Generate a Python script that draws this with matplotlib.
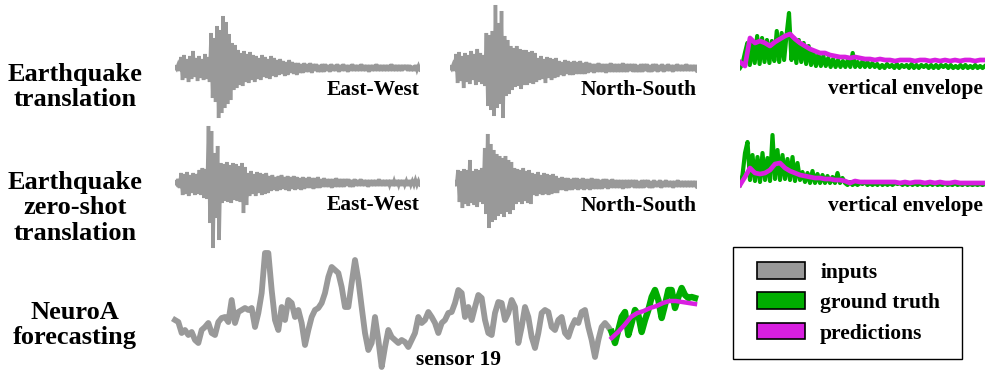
import numpy as np
import matplotlib
matplotlib.use("Agg")
import matplotlib.pyplot as plt
from matplotlib.patches import Patch, Rectangle
from matplotlib.legend_handler import HandlerPatch

W, H = 989, 370

GRAY = "#999999"
GREEN = "#00ad00"
MAGENTA = "#d81fe0"

# seismograms, amplitude (pixels above/below the baseline)
ew1 = [1, -1, 3, -3,
       11, -12, 13, -10, 9, -14, 12, -11, 17, -9, 10, -13, 12, -10, 9, -12, 14, -11, 11, -14,
       35, -30, 30, -34, 42, -50, 38, -45, 52, -40, 46, -36, 34, -32,
       25, -22, 23, -20,
       18, -17, 15, -18, 17, -14, 14, -15, 16, -12, 13, -14,
       12, -11, 10, -12, 13, -9, 11, -10, 9, -11, 12, -8, 10, -9,
       8, -7, 9, -6, 7, -8, 6, -7, 8, -5, 6, -6, 5, -7,
       5, -5, 4, -5, 5, -4, 4, -4, 5, -5, 4, -3, 4, -4, 3, -4, 4, -4, 4, -3,
       3, -4, 4, -3, 3, -3, 4, -4, 3, -3, 4, -3, 3, -4, 3, -3, 4, -3, 3, -3,
       3, -3, 4, -3, 3, -3, 3, -4, 3, -3, 3, -3, 4, -3, 3, -3, 3, -3, 3, -3,
       3, -3, 4, -3, 3, -3, 3, -3, 3, -3, 3, -2, 3, -3, 3, -3, 2, -3, 3, -2,
       2, -2]
ns1 = [1, -1, 3, -3,
       14, -15, 16, -13, 12, -20, 15, -14, 13, -16, 17, -12, 14, -17, 19, -14, 15, -16, 13, -18,
       35, -38, 33, -42, 37, -48, 63, -40, 45, -36, 57, -50,
       32, -28, 28, -26,
       22, -22, 20, -19, 22, -18, 19, -21, 18, -17,
       18, -17, 16, -15, 17, -16, 15, -14,
       10, -12, 12, -11, 9, -15, 11, -10, 10, -12, 9, -10, 10, -9,
       7, -7, 6, -8, 8, -6, 7, -7, 6, -7, 7, -6, 6, -6, 7, -6, 5, -6, 6, -5,
       5, -4, 4, -5, 4, -4, 5, -4, 4, -4, 4, -5, 4, -4, 5, -4, 4, -4, 4, -4,
       4, -4, 5, -4, 4, -4, 4, -3, 4, -4, 4, -4, 3, -4, 4, -4, 4, -3, 4, -4,
       3, -4, 4, -3, 4, -4, 3, -3, 4, -4, 3, -3, 4, -3, 3, -4, 3, -3, 4, -3,
       3, -3, 3, -3, 4, -3, 3, -3, 3, -3, 3, -3]
ew2 = [1, -1, 4, -5,
       10, -12, 9, -11, 11, -13, 8, -10, 10, -12, 9, -11, 13, -12,
       15, -15, 14, -16,
       57, -40, 52, -65, 30, -35, 37, -57,
       20, -20, 19, -18, 21, -19, 18, -20, 20, -17, 19, -18, 17, -19,
       20, -30, 16, -22,
       10, -13, 12, -11, 9, -13, 11, -10, 10, -12, 9, -11, 10, -10,
       7, -8, 8, -7, 6, -8, 7, -7, 8, -6, 6, -7, 7, -8, 6, -6, 7, -7, 6, -6,
       5, -7, 6, -6, 5, -5, 6, -5, 5, -6, 5, -5, 6, -5,
       4, -4, 5, -4, 4, -4, 4, -5, 4, -4, 5, -4, 4, -4, 4, -4, 4, -3, 4, -4,
       3, -4, 4, -3, 3, -3, 4, -3, 3, -3, 3, -4, 3, -3, 3, -3, 3, -3, 4, -3,
       3, -3, 3, -3, 3, -2, 3, -3, 2, -3, 3, -2, 3, -3, 3, -2, 2, -3, 3, -2,
       2, -2, 3, -2, 2, -2]
ns2 = [2, -2,
       14, -18, 13, -24, 15, -20, 14, -22, 24, -19, 13, -21, 15, -23, 14, -18, 16, -20,
       36, -30, 50, -44, 40, -38, 34, -36, 30, -32,
       28, -30, 26, -33, 28, -28, 24, -30, 22, -26,
       16, -20, 15, -18, 14, -20, 16, -17, 13, -19, 14, -20,
       11, -11, 10, -12, 12, -10, 9, -11, 11, -10, 10, -11, 9, -10, 10, -9, 8, -9,
       6, -6, 7, -6, 6, -7, 6, -6, 5, -6, 6, -5, 6, -6, 5, -5, 6, -6, 5, -5,
       5, -6, 6, -5, 5, -5, 5, -5, 4, -5, 5, -4, 5, -5,
       4, -4, 5, -4, 4, -4, 4, -4, 4, -5, 4, -4, 4, -4, 4, -3, 4, -4, 4, -4,
       3, -4, 4, -4, 4, -3, 4, -4, 3, -4, 4, -3, 3, -3, 4, -4, 3, -3, 4, -3,
       3, -3, 3, -4, 3, -3, 4, -3, 3, -3, 3, -3, 3, -3, 3, -3, 3, -3, 3, -3]

# vertical envelopes (height above baseline)
env_true1 = [0, 4, 15,
             25, 3, 24, 5, 32, 4, 30, 6, 28, 5, 27, 7,
             37, 6, 35, 8, 33, 55, 8,
             30, 5, 28, 6, 25, 4, 22, 3,
             15, 2, 14, 2, 12, 2, 10, 1, 9, 1, 8, 1,
             7, 1, 8, 1, 15, 1, 6, 1, 7, 1, 6, 1, 5, 1,
             4, 0, 3, 0, 4, 1, 3, 0, 4, 0, 3, 1, 3, 0, 4, 0, 3, 0, 3, 1,
             3, 0, 3, 0, 3, 0, 3, 1, 3, 0, 3, 0, 2, 0, 3, 0, 3, 0, 2, 0,
             3, 0, 2, 0, 2]
env_pred1 = [6, 2, 30, 25, 27, 25, 22, 26, 29, 32, 34, 29, 25, 22, 19, 17, 15, 15, 13, 12,
             11, 11, 10, 11, 10, 9, 9, 8, 9, 8, 8, 7, 8, 8, 8, 7, 8, 8, 7, 8,
             7, 8, 7, 8, 7, 8, 8, 7, 8, 8]
env_true2 = [0, 10, 32, 43, 5,
             30, 4, 28, 3, 32, 5, 27, 4,
             50, 6, 35, 5, 30, 6, 26, 5, 28, 4, 22, 5,
             13, 3, 12, 2, 14, 2, 11, 2, 10,
             2, 9, 2, 8, 2, 12, 2, 7,
             2, 0, 3, 0, 2, 0, 2, 1, 3, 0, 2, 0, 2, 0, 3, 0, 2, 0, 2, 0,
             2, 1, 2, 0, 2, 0, 2, 0, 2, 0, 2, 0, 1, 0, 2, 0, 2, 0, 1, 0,
             2, 0, 1, 0, 2, 0, 1, 0, 2, 0, 1, 0, 1, 0, 1, 0, 1]
env_pred2 = [0, 8, 17, 12, 11, 12, 15, 21, 22, 17, 14, 12, 10, 9, 8, 7, 7, 6, 6, 5,
             5, 4, 2, 4, 3, 3, 3, 3, 3, 3, 3, 3, 2, 3, 2, 3, 3, 2, 3, 2,
             3, 2, 2, 3, 2, 2, 2, 2, 2, 2]

# NeuroA sensor 19
sensor_in = [50, 48, 37, 40, 35, 38, 30, 27, 40, 43, 47, 37, 35, 48, 52, 53, 48, 70, 47, 58,
             60, 62, 60, 62, 43, 57, 77, 117, 117, 80, 50, 40, 63, 50, 70, 67, 53, 60, 47, 25,
             40, 53, 60, 62, 67, 77, 93, 103, 100, 97, 83, 63, 63, 87, 110, 90, 63, 37, 20, 27,
             53, 30, 3, 23, 40, 33, 30, 27, 30, 28, 23, 30, 37, 53, 47, 50, 58, 53, 47, 37,
             47, 50, 57, 58, 67, 80,
             77, 53, 63, 50, 63, 75, 72, 50, 37, 35, 57, 68, 67, 50, 57, 70, 63, 27, 43, 63,
             53, 33, 22, 37, 57, 60, 58, 43, 40, 50, 53, 37, 33, 43, 50, 47, 58, 60, 43, 30,
             13, 30, 43, 47, 43, 38]
sensor_true = [38, 27, 40, 53, 58, 35, 47, 60, 55, 38, 50, 60, 73, 80, 70, 52, 65, 80, 80, 62,
               73, 82, 75, 72, 73, 72]
sensor_pred = [32, 38, 45, 53, 57, 59, 62, 64, 67, 69, 69, 68, 67, 66]

row_labels = ["Earthquake\ntranslation", "Earthquake\nzero-shot\ntranslation", "NeuroA\nforecasting"]
legend_labels = ["inputs", "ground truth", "predictions"]

plt.rcParams["font.family"] = ["Liberation Serif", "DejaVu Serif"]
plt.rcParams["font.weight"] = "bold"

fig = plt.figure(figsize=(W / 100, H / 100), dpi=100)


def px_axes(x0, x1, y_top, y_bot):
    ax = fig.add_axes([x0 / W, 1 - y_bot / H, (x1 - x0) / W, (y_bot - y_top) / H])
    ax.set_axis_off()
    return ax


def px_text(x, y, s, **kw):
    fig.text(x / W, 1 - y / H, s, fontweight="bold", **kw)


def seismo(trace, x0, x1, base, label):
    ax = px_axes(x0, x1, base - 70, base + 70)
    ax.plot(np.arange(len(trace)), trace, color=GRAY, lw=2.5, solid_joinstyle="miter")
    ax.set_xlim(0, len(trace) - 1)
    ax.set_ylim(-70, 70)
    px_text(x1, base + 22, label, ha="right", va="center", fontsize=15.5)


def envelope(true, pred, base):
    ax = px_axes(740, 985, base - 62, base + 8)
    ax.plot(np.linspace(0, 1, len(true)), true, color=GREEN, lw=3.0)
    ax.plot(np.linspace(0, 1, len(pred)), pred, color=MAGENTA, lw=3.4)
    ax.set_xlim(0, 1)
    ax.set_ylim(-8, 62)
    px_text(983, base + 21, "vertical envelope", ha="right", va="center", fontsize=15.5)


seismo(ew1, 175, 420, 68, "East-West")
seismo(ns1, 450, 697, 68, "North-South")
envelope(env_true1, env_pred1, 68)
seismo(ew2, 175, 420, 183, "East-West")
seismo(ns2, 455, 697, 184, "North-South")
envelope(env_true2, env_pred2, 185)

# forecasting row
ax3 = px_axes(175, 695, 240, 370)
n_in = len(sensor_in)
t_true = np.arange(len(sensor_true)) + n_in - 1
ax3.plot(np.arange(n_in), sensor_in, color=GRAY, lw=4.2)
ax3.plot(t_true, sensor_true, color=GREEN, lw=4.6)
ax3.plot(np.linspace(t_true[0], t_true[-1], len(sensor_pred)), sensor_pred, color=MAGENTA, lw=3.2)
ax3.set_xlim(0, t_true[-1])
ax3.set_ylim(0, 130)
for ln in ax3.lines:
    ln.set_clip_on(False)
px_text(459, 360, "sensor 19", ha="center", va="center", fontsize=15.5)

for lab, y in zip(row_labels, [87, 208, 325]):
    px_text(75, y, lab, ha="center", va="center", fontsize=19, linespacing=1.15)


# legend swatches sit a little in from the frame
def swatch(legend, orig_handle, xdescent, ydescent, width, height, fontsize):
    shift = 6.5
    return Rectangle((-xdescent + shift, -ydescent), width - shift, height)


handles = [Patch(facecolor=c, edgecolor="black", lw=1.2) for c in (GRAY, GREEN, MAGENTA)]
leg = fig.legend(handles, legend_labels, loc="upper left",
                 bbox_to_anchor=(733 / W, 1 - 353 / H, 229 / W, 106 / H), mode="expand",
                 prop={"family": "Liberation Serif", "weight": "bold", "size": 15.5},
                 handler_map={Patch: HandlerPatch(patch_func=swatch)},
                 handlelength=2.65, handleheight=0.8, handletextpad=0.7, labelspacing=0.45,
                 borderpad=0.7, borderaxespad=0, fancybox=False, framealpha=1)
leg.get_frame().set_edgecolor("black")
leg.get_frame().set_linewidth(1.0)

fig.savefig("out.png", dpi=100)
